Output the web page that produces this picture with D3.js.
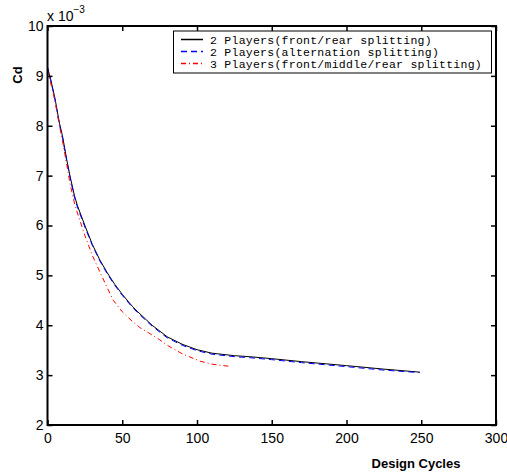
<!DOCTYPE html>
<html><head><meta charset="utf-8">
<script src="https://cdn.jsdelivr.net/npm/d3@7"></script>
<style>body{margin:0;background:#fff}svg{display:block}</style>
</head><body>
<script>
// Data (Cd values in units of 1e-3)
const xTicks = [0, 50, 100, 150, 200, 250, 300];
const yTicks = [2, 3, 4, 5, 6, 7, 8, 9, 10];
const seriesNames = ["2 Players(front/rear splitting)", "2 Players(alternation splitting)", "3 Players(front/middle/rear splitting)"];
const blackX = [0, 2, 5, 8, 10, 13, 15, 18, 20, 25, 30, 35, 40, 45, 50, 57, 60, 70, 80, 90, 100, 110, 125, 135, 150, 170, 200, 225, 249];
const blackY = [9.15, 8.95, 8.55, 8.05, 7.8, 7.3, 7.0, 6.6, 6.4, 6.0, 5.62, 5.31, 5.05, 4.82, 4.62, 4.37, 4.28, 4.0, 3.77, 3.62, 3.51, 3.44, 3.39, 3.37, 3.33, 3.27, 3.19, 3.12, 3.06];
const blueX = [0, 2, 5, 8, 10, 13, 15, 18, 20, 25, 30, 35, 40, 45, 50, 57, 60, 70, 80, 90, 100, 110, 125, 135, 150, 170, 200, 225, 249];
const blueY = [9.18, 8.93, 8.52, 8.02, 7.77, 7.27, 6.97, 6.57, 6.37, 5.97, 5.6, 5.29, 5.03, 4.8, 4.6, 4.35, 4.26, 3.98, 3.75, 3.6, 3.49, 3.42, 3.37, 3.35, 3.31, 3.25, 3.17, 3.1, 3.05];
const redX = [0, 5, 8, 10, 13, 15, 18, 20, 25, 30, 35, 40, 44, 50, 57, 62, 68, 75, 80, 90, 102, 110, 115, 121];
const redY = [9.12, 8.5, 8.0, 7.7, 7.2, 6.85, 6.45, 6.25, 5.8, 5.4, 5.07, 4.75, 4.5, 4.27, 4.07, 3.95, 3.84, 3.71, 3.6, 3.43, 3.28, 3.22, 3.2, 3.18];

const W = 507, H = 476;
const L = 47.5, R = 496, T = 26, B = 425;
const svg = d3.select("body").append("svg").attr("width", W).attr("height", H);
const x = d3.scaleLinear().domain([0, 300]).range([L, R]);
const y = d3.scaleLinear().domain([2, 10]).range([B, T]);

const line = d3.line().x(d => x(d[0])).y(d => y(d[1]));
const series = [
  {xs: blackX, ys: blackY, color: "#000000", dash: null},
  {xs: blueX, ys: blueY, color: "#0000ff", dash: "6,4"},
  {xs: redX, ys: redY, color: "#ff0000", dash: "5,3,1,3"}
];
series.forEach(s => {
  const pts = s.xs.map((v, i) => [v, s.ys[i]]);
  svg.append("path").attr("d", line(pts)).attr("fill", "none")
    .attr("stroke", s.color).attr("stroke-width", 1)
    .attr("stroke-dasharray", s.dash);
});

// Axes with inward ticks
const font = "'Liberation Sans', Arial, sans-serif";
const gx = svg.append("g").attr("transform", `translate(0,${B})`)
  .call(d3.axisBottom(x).tickValues(xTicks).tickSizeInner(-5).tickSizeOuter(0).tickPadding(8));
const gy = svg.append("g").attr("transform", `translate(${L},0)`)
  .call(d3.axisLeft(y).tickValues(yTicks).tickSizeInner(-5).tickSizeOuter(0).tickPadding(4));
const gxt = svg.append("g").attr("transform", `translate(0,${T})`)
  .call(d3.axisTop(x).tickValues(xTicks).tickSizeInner(-5).tickSizeOuter(0).tickFormat(""));
const gyr = svg.append("g").attr("transform", `translate(${R},0)`)
  .call(d3.axisRight(y).tickValues(yTicks).tickSizeInner(-5).tickSizeOuter(0).tickFormat(""));
[gx, gy, gxt, gyr].forEach(g => {
  g.select(".domain").remove();
  g.selectAll(".tick line").attr("stroke", "#000").attr("stroke-width", 1.5);
  g.selectAll("text").attr("font-family", font).attr("font-size", 14).attr("fill", "#000");
});
gx.selectAll("text").attr("dy", "0.71em");

// Box
svg.append("rect").attr("x", L).attr("y", T).attr("width", R - L).attr("height", B - T)
  .attr("fill", "none").attr("stroke", "#000").attr("stroke-width", 2);

// Exponent label
const ex = svg.append("text").attr("x", 47).attr("y", 21).attr("font-family", font).attr("font-size", 14);
ex.append("tspan").text("x 10");
ex.append("tspan").attr("dy", -8).attr("font-size", 10).text("\u22123");

// Axis titles
svg.append("text").attr("transform", "translate(22,75) rotate(-90)").attr("text-anchor", "middle")
  .attr("font-family", font).attr("font-size", 13).attr("font-weight", "bold").text("Cd");
svg.append("text").attr("x", 416).attr("y", 468).attr("text-anchor", "middle")
  .attr("font-family", font).attr("font-size", 13).attr("font-weight", "bold").text("Design Cycles");

// Legend
const lg = svg.append("g");
lg.append("rect").attr("x", 173.5).attr("y", 31).attr("width", 318).attr("height", 42)
  .attr("fill", "#fff").attr("stroke", "#000").attr("stroke-width", 1);
const lyPos = [39.5, 51.5, 63.5];
series.forEach((s, i) => {
  lg.append("line").attr("x1", 181).attr("x2", 203).attr("y1", lyPos[i]).attr("y2", lyPos[i])
    .attr("stroke", s.color).attr("stroke-width", 1.5).attr("stroke-dasharray", s.dash);
  lg.append("text").attr("x", 210).attr("y", lyPos[i]).attr("dy", "0.35em")
    .attr("font-family", "'Liberation Mono', 'Courier New', monospace").attr("font-size", 11.5)
    .attr("textLength", seriesNames[i].length * 7.15).attr("lengthAdjust", "spacing")
    .attr("fill", "#000").text(seriesNames[i]);
});
</script>
</body></html>
